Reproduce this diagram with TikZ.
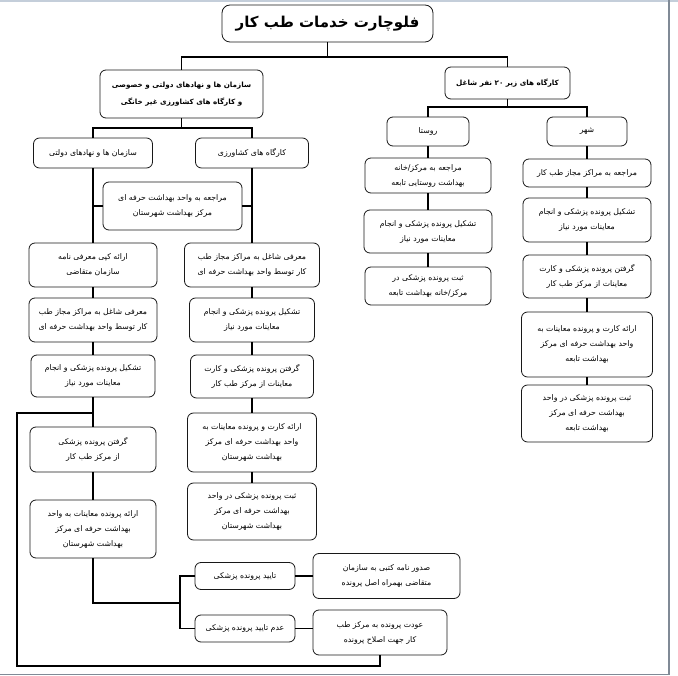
\documentclass[tikz,border=0pt]{standalone}
\usepackage{fontspec}
\newfontfamily\arabicfont[Script=Arabic]{DejaVu Sans}
\TeXXeTstate=1
\newcommand{\rl}[1]{\beginR #1\endR}
\definecolor{flowcolor0001}{RGB}{24,24,24}
\definecolor{flowcolor0002}{RGB}{0,0,0}
\definecolor{flowcolor0003}{RGB}{196,206,218}
\definecolor{flowcolor0004}{RGB}{128,138,150}

\begin{document}
\begin{tikzpicture}[yscale=-1
                ,pbox/.style={draw=flowcolor0001,fill=white,rounded corners=6pt,line width=0.8pt,align=center,inner sep=2pt,font=\arabicfont\fontsize{7.8}{15}\selectfont}
                ,phead/.style={pbox,font=\arabicfont\bfseries\fontsize{7.2}{17}\selectfont}
                ,ptitle/.style={pbox,rounded corners=8pt,font=\arabicfont\bfseries\fontsize{15}{17}\selectfont}
                ,pline/.style={color=flowcolor0002,line width=1.4pt}
                ,pframe/.style={color=flowcolor0004,line width=1.5pt}
            ]
            \useasboundingbox (0pt,0pt) rectangle (678pt,676pt);
            \fill[flowcolor0003] (0pt,0pt) rectangle (678pt,2pt);
            \draw[pframe] (669pt,0pt) -- (669pt,674.5pt) -- (0pt,674.5pt);
            \node[ptitle,minimum width=211pt,minimum height=37pt] (title) at (327.5pt,23.5pt) {\rl{فلوچارت خدمات طب کار}};
            \node[phead,minimum width=163pt,minimum height=48pt] (org) at (181.5pt,94pt) {\rl{سازمان ها و نهادهای دولتی و خصوصی}\\\rl{و کارگاه های کشاورزی غیر خانگی}};
            \node[phead,minimum width=125pt,minimum height=32pt] (small) at (507.5pt,83pt) {\rl{کارگاه های زیر ۲۰ نفر شاغل}};
            \node[pbox,minimum width=82pt,minimum height=29pt] (rosta) at (428pt,131.5pt) {\rl{روستا}};
            \node[pbox,minimum width=80pt,minimum height=29pt] (shahr) at (587pt,131.5pt) {\rl{شهر}};
            \node[pbox,minimum width=119pt,minimum height=30pt] (dolati) at (93pt,153pt) {\rl{سازمان ها و نهادهای دولتی}};
            \node[pbox,minimum width=113pt,minimum height=30pt] (keshavarzi) at (252pt,153pt) {\rl{کارگاه های کشاورزی}};
            \node[pbox,minimum width=139pt,minimum height=48pt] (marje) at (172.5pt,206pt) {\rl{مراجعه به واحد بهداشت حرفه ای}\\\rl{مرکز بهداشت شهرستان}};
            \node[pbox,minimum width=128pt,minimum height=44pt] (L1) at (93pt,265pt) {\rl{ارائه کپی معرفی نامه}\\\rl{سازمان متقاضی}};
            \node[pbox,minimum width=128pt,minimum height=44pt] (L2) at (93pt,320pt) {\rl{معرفی شاغل به مراکز مجاز طب}\\\rl{کار توسط واحد بهداشت حرفه ای}};
            \node[pbox,minimum width=124pt,minimum height=42pt] (L3) at (93pt,376pt) {\rl{تشکیل پرونده پزشکی و انجام}\\\rl{معاینات مورد نیاز}};
            \node[pbox,minimum width=126pt,minimum height=45pt] (L4) at (93pt,449.5pt) {\rl{گرفتن پرونده پزشکی}\\\rl{از مرکز طب کار}};
            \node[pbox,minimum width=126pt,minimum height=58pt] (L5) at (93pt,529pt) {\rl{ارائه پرونده معاینات به واحد}\\\rl{بهداشت حرفه ای مرکز}\\\rl{بهداشت شهرستان}};
            \node[pbox,minimum width=135pt,minimum height=44pt] (K1) at (252pt,265pt) {\rl{معرفی شاغل به مراکز مجاز طب}\\\rl{کار توسط واحد بهداشت حرفه ای}};
            \node[pbox,minimum width=125pt,minimum height=44pt] (K2) at (252pt,320pt) {\rl{تشکیل پرونده پزشکی و انجام}\\\rl{معاینات مورد نیاز}};
            \node[pbox,minimum width=123pt,minimum height=43pt] (K3) at (252pt,376.5pt) {\rl{گرفتن پرونده پزشکی و کارت}\\\rl{معاینات از مرکز طب کار}};
            \node[pbox,minimum width=129pt,minimum height=59pt] (K4) at (252pt,442.5pt) {\rl{ارائه کارت و پرونده معاینات به}\\\rl{واحد بهداشت حرفه ای مرکز}\\\rl{بهداشت شهرستان}};
            \node[pbox,minimum width=129pt,minimum height=57pt] (K5) at (252pt,511.5pt) {\rl{ثبت پرونده پزشکی در واحد}\\\rl{بهداشت حرفه ای مرکز}\\\rl{بهداشت شهرستان}};
            \node[pbox,minimum width=126pt,minimum height=35pt] (R1) at (428pt,175.5pt) {\rl{مراجعه به مرکز/خانه}\\\rl{بهداشت روستایی تابعه}};
            \node[pbox,minimum width=128pt,minimum height=43pt] (R2) at (428pt,231.5pt) {\rl{تشکیل پرونده پزشکی و انجام}\\\rl{معاینات مورد نیاز}};
            \node[pbox,minimum width=126pt,minimum height=38pt] (R3) at (428pt,286pt) {\rl{ثبت پرونده پزشکی در}\\\rl{مرکز/خانه بهداشت تابعه}};
            \node[pbox,minimum width=128pt,minimum height=28pt] (S1) at (587pt,173pt) {\rl{مراجعه به مراکز مجاز طب کار}};
            \node[pbox,minimum width=128pt,minimum height=44pt] (S2) at (587pt,220pt) {\rl{تشکیل پرونده پزشکی و انجام}\\\rl{معاینات مورد نیاز}};
            \node[pbox,minimum width=128pt,minimum height=43pt] (S3) at (587pt,276.5pt) {\rl{گرفتن پرونده پزشکی و کارت}\\\rl{معاینات از مرکز طب کار}};
            \node[pbox,minimum width=131pt,minimum height=65pt] (S4) at (587pt,344.5pt) {\rl{ارائه کارت و پرونده معاینات به}\\\rl{واحد بهداشت حرفه ای مرکز}\\\rl{بهداشت تابعه}};
            \node[pbox,minimum width=131pt,minimum height=57pt] (S5) at (587pt,413.5pt) {\rl{ثبت پرونده پزشکی در واحد}\\\rl{بهداشت حرفه ای مرکز}\\\rl{بهداشت تابعه}};
            \node[pbox,minimum width=100pt,minimum height=27pt] (T1) at (245pt,576pt) {\rl{تایید پرونده پزشکی}};
            \node[pbox,minimum width=147pt,minimum height=45pt] (T2) at (386.5pt,576pt) {\rl{صدور نامه کتبی به سازمان}\\\rl{متقاضی بهمراه اصل پرونده}};
            \node[pbox,minimum width=100pt,minimum height=27pt] (U1) at (245pt,628.5pt) {\rl{عدم تایید پرونده پزشکی}};
            \node[pbox,minimum width=134pt,minimum height=45pt] (U2) at (380pt,632.5pt) {\rl{عودت پرونده به مرکز طب}\\\rl{کار جهت اصلاح پرونده}};
            \coordinate (jtop) at (327.5pt,57pt);
            \coordinate (jsmall) at (507.5pt,107pt);
            \coordinate (jorg) at (181.5pt,128pt);
            \coordinate (jbr) at (180pt,603pt);
            \coordinate (jret) at (17pt,666pt);
            \coordinate (jloop) at (93pt,413pt);
            \draw[pline] (title.south) -- (title.south |- jtop);
            \draw[pline] (org.north) |- (jtop) -| (small.north);
            \draw[pline] (small.south) -- (small.south |- jsmall);
            \draw[pline] (rosta.north) |- (jsmall) -| (shahr.north);
            \draw[pline] (org.south) -- (org.south |- jorg);
            \draw[pline] (dolati.north) |- (jorg) -| (keshavarzi.north);
            \draw[pline] (marje.west) -- (marje.west -| dolati);
            \draw[pline] (marje.east) -- (marje.east -| keshavarzi);
            \draw[pline] (dolati) -- (L1) -- (L2) -- (L3) -- (L4) -- (L5);
            \draw[pline] (keshavarzi) -- (K1) -- (K2) -- (K3) -- (K4) -- (K5);
            \draw[pline] (rosta) -- (R1) -- (R2) -- (R3);
            \draw[pline] (shahr) -- (S1) -- (S2) -- (S3) -- (S4) -- (S5);
            \draw[pline] (L5.south) |- (jbr);
            \draw[pline] (T1.west) -| (jbr) |- (U1.west);
            \draw[pline] (T1.east) -- (T1.east -| T2.west);
            \draw[pline] (U1.east) -- (U1.east -| U2.west);
            \draw[pline] (U2.south) |- (jret) |- (jloop);
        \end{tikzpicture}
\end{document}
